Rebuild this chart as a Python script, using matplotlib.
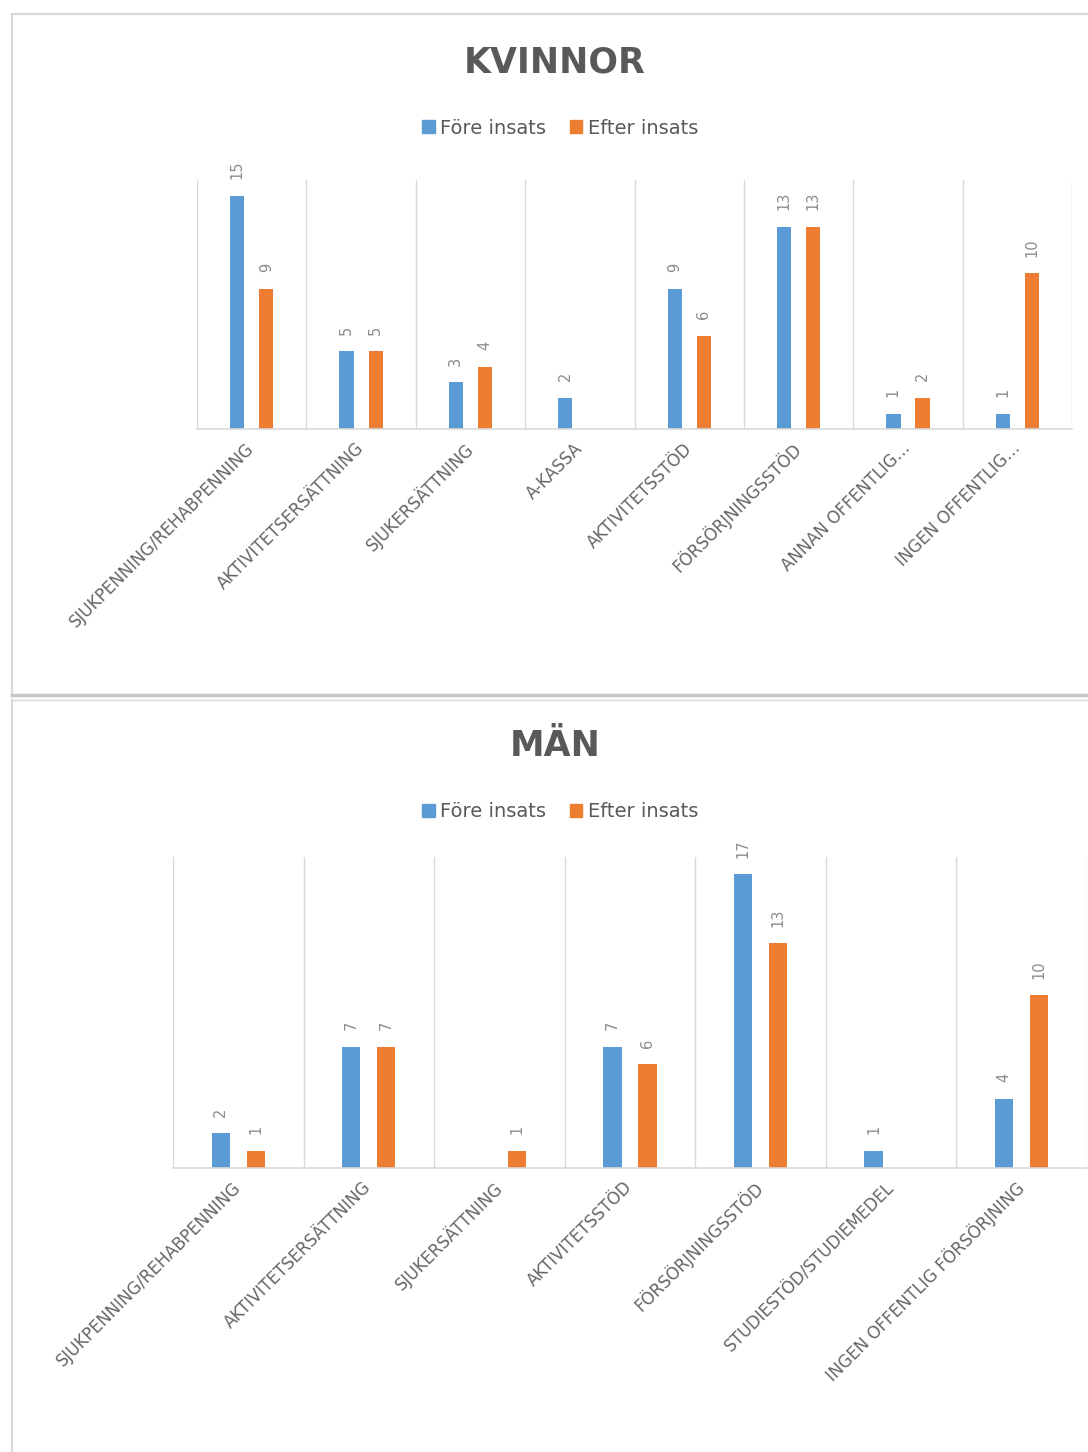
import matplotlib
import numpy as np

matplotlib.use('Agg')

import matplotlib.pyplot as plt
from matplotlib.patches import Patch
from matplotlib.lines import Line2D

plt.rcParams['font.family'] = ['DejaVu Sans']

BLUE = '#5B9BD5'
ORANGE = '#ED7D31'
TEXT = '#595959'
GRID = '#D9D9D9'

kvinnor_labels = ["SJUKPENNING/REHABPENNING", "AKTIVITETSERSÄTTNING", "SJUKERSÄTTNING",
                  "A-KASSA", "AKTIVITETSSTÖD", "FÖRSÖRJNINGSSTÖD",
                  "ANNAN OFFENTLIG…", "INGEN OFFENTLIG…"]
kvinnor_fore = [15, 5, 3, 2, 9, 13, 1, 1]
kvinnor_efter = [9, 5, 4, 0, 6, 13, 2, 10]

man_labels = ["SJUKPENNING/REHABPENNING", "AKTIVITETSERSÄTTNING", "SJUKERSÄTTNING",
              "AKTIVITETSSTÖD", "FÖRSÖRJNINGSSTÖD", "STUDIESTÖD/STUDIEMEDEL",
              "INGEN OFFENTLIG FÖRSÖRJNING"]
man_fore = [2, 7, 0, 7, 17, 1, 4]
man_efter = [1, 7, 1, 6, 13, 0, 10]

series_names = ["Före insats", "Efter insats"]


def draw_panel(ax, labels, fore, efter, ymax, width, offset):
    ind = np.arange(len(labels))
    b1 = ax.bar(ind - offset, fore, width, color=BLUE)
    b2 = ax.bar(ind + offset, efter, width, color=ORANGE)
    for bars, vals in ((b1, fore), (b2, efter)):
        ax.bar_label(bars, labels=[str(v) if v else '' for v in vals], padding=12,
                     rotation=90, fontsize=10.5, color='#8C8C8C')

    ax.set_xlim(-0.5, len(labels) - 0.5)
    ax.set_ylim(0, ymax)
    ax.set_yticks([])
    ax.set_xticks(ind)
    ax.set_xticklabels(labels, rotation=45, ha='right', va='center',
                       rotation_mode='anchor', fontsize=12, color='#666666')
    ax.tick_params(axis='x', length=0, pad=12)
    ax.set_xticks(np.arange(len(labels) + 1) - 0.5, minor=True)
    ax.tick_params(axis='x', which='minor', length=0)
    ax.grid(True, which='minor', axis='x', color=GRID, linewidth=1)
    ax.set_axisbelow(True)
    for side in ('left', 'right', 'top'):
        ax.spines[side].set_visible(False)
    ax.spines['bottom'].set_color(GRID)
    ax.spines['bottom'].set_linewidth(1.2)


fig = plt.figure(figsize=(10.88, 14.52), dpi=100)

# panel frames
fig.add_artist(Line2D([0.011, 0.011], [0.9904, 0.5214], color=GRID, lw=1.5, transform=fig.transFigure))
fig.add_artist(Line2D([0.011, 1.0], [0.9904, 0.9904], color=GRID, lw=1.5, transform=fig.transFigure))
fig.add_artist(Line2D([0.011, 1.0], [0.5214, 0.5214], color='#C8C8C8', lw=2.5, transform=fig.transFigure))
fig.add_artist(Line2D([0.011, 1.0], [0.5180, 0.5180], color=GRID, lw=1.0, transform=fig.transFigure))
fig.add_artist(Line2D([0.011, 0.011], [0.5180, 0.0], color=GRID, lw=1.5, transform=fig.transFigure))

ax1 = fig.add_axes([0.1811, 0.7045, 0.8042, 0.1715])
draw_panel(ax1, kvinnor_labels, kvinnor_fore, kvinnor_efter, 16, 0.13, 0.133)

ax2 = fig.add_axes([0.159, 0.1956, 0.840, 0.2142])
draw_panel(ax2, man_labels, man_fore, man_efter, 18, 0.14, 0.134)

fig.text(0.510, 0.9573, "KVINNOR", ha='center', va='center', fontsize=25,
         fontweight='bold', color=TEXT)
fig.text(0.510, 0.4862, "MÄN", ha='center', va='center', fontsize=25,
         fontweight='bold', color=TEXT)

handles = [Patch(color=BLUE), Patch(color=ORANGE)]
for y in (0.9118, 0.4408):
    fig.legend(handles, series_names, loc='center', bbox_to_anchor=(0.515, y), ncol=2,
               frameon=False, fontsize=14, labelcolor=TEXT, handlelength=0.65,
               handleheight=0.65, handletextpad=0.3, columnspacing=1.2)

fig.savefig('out.png', dpi=100, facecolor='white')
